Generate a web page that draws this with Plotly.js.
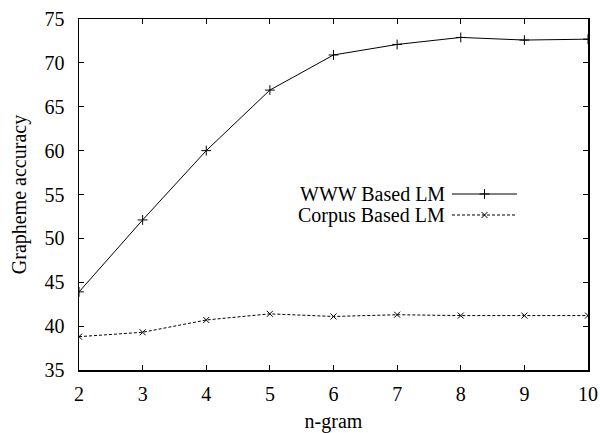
<!DOCTYPE html>
<html>
<head>
<meta charset="utf-8">
<script src="https://cdn.plot.ly/plotly-3.0.1.min.js"></script>
<style>html,body{margin:0;padding:0;background:#fff;}#chart{width:600px;height:433px;}</style>
</head>
<body>
<div id="chart"></div>
<script>
const ngram = [2, 3, 4, 5, 6, 7, 8, 9, 10];
const wwwBased = [43.9, 52.1, 60.0, 66.9, 70.9, 72.1, 72.9, 72.6, 72.7];
const corpusBased = [38.8, 39.3, 40.7, 41.4, 41.1, 41.3, 41.2, 41.2, 41.2];
const seriesNames = ["WWW Based LM", "Corpus Based LM"];
const yTicks = [35, 40, 45, 50, 55, 60, 65, 70, 75];

const font = "Liberation Serif";
const fs = 20;

const traces = [
  {x: ngram, y: wwwBased, name: seriesNames[0], mode: "lines+markers", type: "scatter",
   line: {color: "#000", width: 1},
   marker: {symbol: "cross-thin", size: 7, color: "#000", line: {color: "#000", width: 1}}},
  {x: ngram, y: corpusBased, name: seriesNames[1], mode: "lines+markers", type: "scatter",
   line: {color: "#000", width: 1, dash: "3px,2px"},
   marker: {symbol: "x-thin", size: 6, color: "#000", line: {color: "#000", width: 1}}},
  {x: [0.5], y: [0.5], xaxis: "x2", yaxis: "y2", mode: "markers", type: "scatter", showlegend: false, hoverinfo: "skip",
   marker: {symbol: "cross-thin", size: 7, line: {color: "#000", width: 1}}},
  {x: [0.5], y: [0.5], xaxis: "x3", yaxis: "y3", mode: "markers", type: "scatter", showlegend: false, hoverinfo: "skip",
   marker: {symbol: "x-thin", size: 6, line: {color: "#000", width: 1}}}
];

const legX0 = 452, legX1 = 517, leg1Y = 194, leg2Y = 215, legTextX = 447;
const W = 600, H = 433, mL = 79, mR = 12, mT = 19, mB = 63;
const pw = W - mL - mR, ph = H - mT - mB;
function px(xp) { return (xp - mL) / pw; }
function py(yp) { return 1 - (yp - mT) / ph; }

const layout = {
  width: W, height: H,
  margin: {l: mL, r: mR, t: mT, b: mB},
  paper_bgcolor: "#fff", plot_bgcolor: "#fff",
  showlegend: false,
  font: {family: font, color: "#000", size: fs},
  xaxis: {
    range: [2, 10], tickvals: ngram, ticks: "inside", ticklen: 5, tickcolor: "#000",
    showline: true, linecolor: "#000", linewidth: 1.5, mirror: "ticks",
    showgrid: false, zeroline: false, tickfont: {family: font, size: fs},
    ticklabelstandoff: 5,
    title: {text: "n-gram", font: {family: font, size: fs}, standoff: 13}
  },
  yaxis: {
    range: [35, 75], tickvals: yTicks, ticks: "inside", ticklen: 5, tickcolor: "#000",
    showline: true, linecolor: "#000", linewidth: 1.5, mirror: "ticks",
    showgrid: false, zeroline: false, tickfont: {family: font, size: fs},
    ticklabelstandoff: 9,
    title: {text: "Grapheme accuracy", font: {family: font, size: fs}, standoff: 12}
  },
  xaxis2: {domain: [px(legX0), px(legX1)], range: [0, 1], visible: false, anchor: "y2", fixedrange: true},
  yaxis2: {domain: [py(leg1Y + 6), py(leg1Y - 6)], range: [0, 1], visible: false, anchor: "x2", fixedrange: true},
  xaxis3: {domain: [px(legX0), px(legX1)], range: [0, 1], visible: false, anchor: "y3", fixedrange: true},
  yaxis3: {domain: [py(leg2Y + 6), py(leg2Y - 6)], range: [0, 1], visible: false, anchor: "x3", fixedrange: true},
  shapes: [
    {type: "line", xref: "paper", yref: "paper", x0: px(legX0), x1: px(legX1), y0: py(leg1Y), y1: py(leg1Y), line: {color: "#000", width: 1}},
    {type: "line", xref: "paper", yref: "paper", x0: px(legX0), x1: px(legX1), y0: py(leg2Y), y1: py(leg2Y), line: {color: "#000", width: 1, dash: "3px,2px"}}
  ],
  annotations: [
    {xref: "paper", yref: "paper", x: px(legTextX), y: py(leg1Y), xanchor: "right", yanchor: "middle", showarrow: false,
     text: seriesNames[0], font: {family: font, size: fs, color: "#000"}},
    {xref: "paper", yref: "paper", x: px(legTextX), y: py(leg2Y), xanchor: "right", yanchor: "middle", showarrow: false,
     text: seriesNames[1], font: {family: font, size: fs, color: "#000"}}
  ]
};

Plotly.newPlot("chart", traces, layout, {displayModeBar: false, staticPlot: true});
</script>
</body>
</html>
